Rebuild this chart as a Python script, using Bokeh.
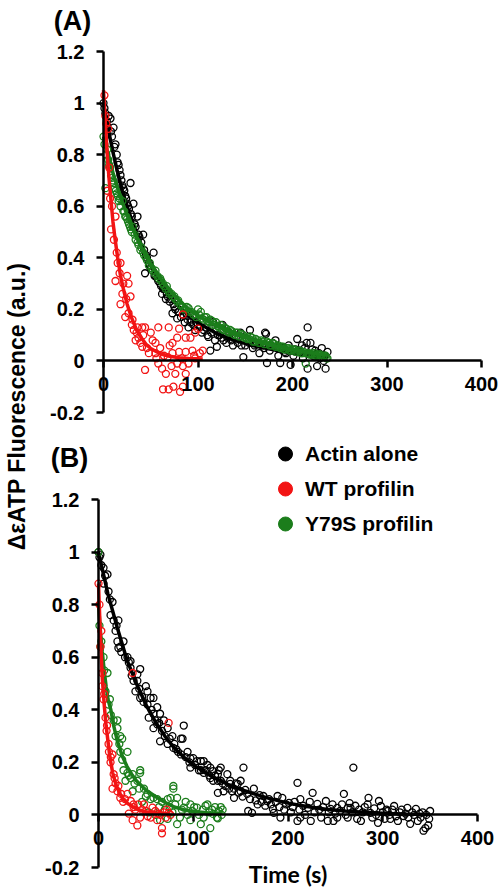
import math
from bokeh.plotting import figure
from bokeh.layouts import row, column
from bokeh.models import (Range1d, FixedTicker, CustomJSTickFormatter, Label,
                          Legend, LegendItem)
from bokeh.embed import file_html
from bokeh.resources import INLINE

# ---------------- data ----------------
X_TICKS = [0, 100, 200, 300, 400]
Y_TICKS = [-0.2, 0, 0.2, 0.4, 0.6, 0.8, 1, 1.2]
SERIES_NAMES = ["Actin alone", "WT profilin", "Y79S profilin"]

# Panel A : (time s, fluorescence)
A_BLACK = [(0,1.00),(1,0.98),(2,0.96),(3.5,0.93),(4,0.91),(5.5,0.95),(7.4,0.94),(8,0.89),(9,0.87),(10.6,0.905),
           (11.5,0.83),(12.7,0.84),(14,0.80),(15,0.77),(16,0.76),(17,0.74),(18,0.72),(19,0.70),(20,0.68),(21,0.67),
           (22,0.66),(23,0.64),(24,0.63),(25,0.61),(26,0.60),(27,0.59),(28.6,0.69),(29,0.57),(30,0.56),(31.7,0.61),
           (33,0.53),(34,0.52),(36,0.56),(37,0.49),(38,0.48),(40,0.46),(42,0.49),(43,0.43),(44,0.34),(45,0.41),
           (46,0.40),(48,0.38),(49,0.37),(50,0.36),(52,0.35),(53,0.42),(54,0.33),(55,0.33),(57,0.32),(58,0.31),
           (60,0.30),(61,0.29),(62,0.26),(63,0.28),(64,0.28),(66,0.24),(67,0.26),(68,0.25),(70,0.23),(71,0.24),
           (73,0.185),(74,0.22),(75,0.21),(76,0.20),(78,0.165),(79,0.19),(80,0.19),(82,0.17),(84,0.18),(86,0.15),
           (88,0.18),(89,0.16),(90,0.13),(92,0.15),(93,0.16),(95,0.14),(97,0.12),(98,0.15),(100,0.14),(102,0.13),
           (104,0.11),(106,0.12),(108,0.13),(110,0.10),(111,0.093),(113,0.04),(114,0.11),(116,0.15),(118,0.08),
           (120,0.055),(121,0.10),(123,0.10),(125,0.09),(126,0.14),(127,0.08),(130,0.07),(131,0.09),(133,0.11),
           (135,0.08),(137,0.06),(140,0.09),(142,0.07),(145,0.11),(146,0.06),(148,0.015),(150,0.06),(152,0.085),
           (154,0.07),(155,0.12),(158,0.05),(160,0.06),(162,0.07),(165,0.03),(168,0.06),(170,0.05),(171,0.11),
           (172,0.105),(173,-0.008),(176,0.04),(179,0.07),(182,0.08),(184,0.05),(185,0.02),(187,-0.008),(190,0.05),
           (192,0.035),(193,0.03),(196,0.06),(198,-0.015),(201,0.02),(203,0.045),(205,0.085),(208,0.04),(210,0.06),
           (211,0.01),(213,0.05),(215,0.07),(216,0.13),(216,-0.03),(219,0.07),(221,0.045),(222,0.02),(224,0.04),
           (226,-0.02),(228,0.03),(229,0.01),(231,0.05),(233,0.0),(234,0.02),(235,-0.03),(237,0.035)]

A_RED = [(1,1.03),(2,0.95),(3,0.92),(4,0.66),(5,0.90),(6,0.75),(7,0.63),(8,0.51),(9,0.60),(11,0.47),
         (12.7,0.56),(12.7,0.31),(14,0.42),(15,0.38),(17,0.34),(18,0.38),(18,0.22),(20,0.26),(21,0.30),(23,0.17),
         (24,0.24),(25,0.33),(26.5,0.30),(26.5,0.185),(28.6,0.25),(30,0.14),(30.7,0.16),(32,0.12),(34,0.08),(35,0.11),
         (36,0.13),(37,0.09),(39,0.07),(41,0.13),(41,0.055),(42,0.10),(44,0.13),(44,-0.035),(46,0.05),(48,0.03),
         (50,0.11),(52,0.08),(55,0.07),(55,0.03),(56,0.01),(58,0.13),(58,-0.01),(60,0.05),(62,-0.03),(63,-0.11),
         (64,0.02),(66,-0.05),(68,0.015),(69,0.13),(69,-0.11),(70,0.06),(72,-0.02),(73,0.07),(73,0.03),(74,-0.10),
         (76,-0.05),(78,0.09),(78,-0.01),(80,0.125),(80,0.035),(81,-0.12),(83,0.01),(84,-0.10),(84,-0.02),(84,0.18),
         (87,0.09),(87,0.035),(87,-0.05),(90,-0.01),(92,0.09),(94,0.04),(96,0.02),(97,0.11),(97,0.01),(100,0.125),
         (102,0.03),(105,0.04)]

A_GREEN = [(0,0.87),(1,0.84),(2,0.67),(3,0.80),(4,0.82),(5,0.78),(6,0.76),(7,0.75),(8,0.72),(9,0.71),(10,0.70),
           (11,0.69),(12,0.67),(13,0.66),(14,0.65),(15,0.64),(16,0.62),(17,0.63),(18,0.60),(20,0.62),(21,0.58),
           (22,0.58),(23,0.56),(24,0.56),(25,0.55),(26,0.54),(27,0.53),(28,0.52),(29,0.51),(30,0.50),(31,0.52),
           (33,0.49),(34,0.47),(36,0.46),(37,0.45),(39,0.43),(40,0.44),(42,0.42),(43,0.41),(45,0.40),(46,0.39),
           (48,0.37),(49,0.38),(51,0.36),(52,0.35),(54,0.34),(55,0.35),(57,0.33),(58,0.32),(60,0.32),(61,0.31),
           (63,0.30),(64,0.29),(66,0.28),(67,0.29),(69,0.27),(70,0.26),(72,0.26),(73,0.25),(75,0.25),(76,0.24),
           (78,0.23),(79,0.235),(81,0.22),(82,0.215),(84,0.21),(85,0.20),(87,0.20),(88,0.21),(90,0.205),(91,0.19),
           (93,0.19),(95,0.18),(97,0.18),(98,0.17),(100,0.20),(101,0.18),(103,0.19),(104,0.165),(106,0.16),(107,0.17),
           (109,0.17),(110,0.155),(112,0.15),(113,0.16),(115,0.155),(116,0.14),(118,0.14),(119,0.15),(121,0.135),
           (122,0.13),(124,0.14),(125,0.125),(127,0.12),(128,0.13),(130,0.125),(131,0.115),(133,0.11),(134,0.12),
           (136,0.115),(137,0.105),(139,0.10),(140,0.11),(142,0.11),(143,0.095),(145,0.095),(146,0.105),(148,0.10),
           (149,0.09),(151,0.09),(152,0.085),(154,0.085),(155,0.095),(157,0.09),(158,0.075),(160,0.075),(161,0.085),
           (163,0.08),(164,0.07),(166,0.07),(167,0.08),(169,0.075),(170,0.065),(172,0.065),(173,0.075),(175,0.07),
           (176,0.06),(178,0.06),(179,0.07),(181,0.065),(182,0.055),(184,0.055),(185,0.06),(187,0.05),(188,0.055),
           (190,0.055),(191,0.045),(193,0.045),(194,0.05),(196,0.05),(197,0.04),(199,0.04),(200,0.045),(202,0.045),
           (203,0.035),(205,0.035),(206,0.04),(208,0.04),(209,0.03),(211,0.03),(212,0.035),(214,-0.01),(215,0.03),
           (217,0.03),(218,0.025),(220,0.025),(221,0.03),(223,0.03),(224,0.02),(226,0.02),(227,0.025),(229,0.025),
           (230,0.015),(232,0.015),(233,0.02),(235,0.02),(236,0.01),(237,0.01)]

A_BLACK_FIT = [(0,1.00),(5,0.90),(10,0.81),(15,0.73),(20,0.66),(25,0.60),(30,0.545),(40,0.45),(50,0.37),(60,0.305),
               (70,0.25),(80,0.21),(90,0.175),(100,0.148),(120,0.105),(140,0.078),(160,0.058),(180,0.043),(200,0.030),
               (220,0.020),(237,0.013)]
A_RED_FIT = [(0,1.05),(2,0.92),(4,0.80),(6,0.70),(8,0.62),(10,0.54),(12,0.48),(15,0.40),(18,0.33),(21,0.28),(25,0.22),
             (30,0.165),(35,0.12),(40,0.09),(45,0.065),(50,0.048),(60,0.028),(70,0.018),(80,0.012),(90,0.009),(105,0.007)]
A_GREEN_FIT = [(0,0.87),(5,0.80),(10,0.73),(15,0.67),(20,0.615),(25,0.565),(30,0.52),(40,0.44),(50,0.375),(60,0.32),
               (70,0.275),(80,0.235),(90,0.20),(100,0.175),(120,0.135),(140,0.105),(160,0.08),(180,0.06),(200,0.045),
               (220,0.032),(237,0.022)]

# Panel B
B_BLACK = [(0,1.0),(1,0.98),(2,0.99),(3,0.95),(5.3,0.94),(5.3,0.88),(7,0.91),(9.5,0.915),(10.6,0.85),(12,0.82),
           (12.7,0.76),(14.8,0.81),(16,0.74),(18,0.70),(19,0.72),(20,0.66),(21,0.74),(21,0.635),(23,0.64),(24,0.62),
           (26.4,0.66),(28,0.60),(30.6,0.60),(32,0.58),(33.8,0.56),(33.8,0.585),(35,0.53),(37,0.51),(39,0.47),(41,0.535),
           (41,0.51),(43,0.48),(44,0.555),(44,0.445),(46,0.45),(47.5,0.43),(50,0.49),(51.7,0.42),(51.7,0.47),(53,0.37),
           (55,0.445),(56,0.40),(58,0.385),(58,0.33),(58,0.445),(60,0.36),(62,0.345),(62,0.41),(64,0.35),(65,0.385),
           (65,0.28),(67,0.32),(69,0.36),(70,0.30),(73,0.33),(73,0.27),(75,0.29),(78,0.30),(79,0.255),(80,0.27),
           (82,0.25),(84,0.24),(87,0.29),(87,0.23),(88.7,0.29),(90,0.34),(92,0.22),(94,0.24),(96,0.20),(97,0.215),
           (97,0.18),(100,0.216),(102,0.19),(104,0.205),(106,0.17),(108,0.205),(108,0.17),(111,0.205),(111,0.16),(113,0.17),
           (115,0.19),(117,0.15),(118,0.18),(118,0.14),(121,0.13),(121,0.167),(123,0.15),(126,0.155),(126,0.13),(126,0.084),
           (127,0.17),(129,0.13),(129,0.18),(131,0.12),(132,0.09),(134,0.11),(136,0.155),(138,0.10),(139,0.13),(139,0.118),
           (141,0.09),(143,0.10),(143,0.065),(145,0.12),(147,0.118),(148,0.085),(150,0.09),(150,0.13),(152,0.07),(153,0.18),
           (155,0.095),(157,0.08),(158,0.015),(160,0.06),(162,0.008),(164,0.10),(166,0.055),(168,0.04),(170,0.075),(172,0.05),
           (174,0.072),(176,0.035),(178,0.053),(180,0.06),(182,0.04),(184,0.023),(185,0.008),(187,0.05),(189,0.072),(191,0.03),
           (192,-0.01),(194,0.065),(196,0.02),(198,0.04),(201,0.046),(203,0.01),(205,0.03),(207,0.05),(210,0.122),(210,-0.023),
           (212,0.02),(213,0.06),(213,-0.01),(216,0.035),(218,0.0),(221,0.027),(223,0.05),(224,-0.023),(226,0.084),(228,0.01),
           (231,0.042),(233,0.02),(235,-0.01),(237,0.03),(240,0.053),(242,-0.023),(243,0.01),(245,0.023),(247,0.04),(248,-0.023),
           (250,0.005),(252,-0.01),(252,0.027),(255,0.015),(257,0.04),(259,0.08),(261,0.0),(263,0.027),(263,-0.01),(265,0.045),
           (266,0.027),(268,0.01),(269,0.18),(271,0.035),(273,-0.015),(275,0.02),(277,-0.023),(279,0.01),(281,0.03),(284,0.04),
           (285,0.065),(287,0.008),(289,-0.01),(291,0.025),(293,0.0),(295,-0.03),(296,0.053),(298,0.034),(300,0.01),(302,-0.015),
           (304,0.02),(305,0.015),(307,0.0),(308,-0.015),(310,0.02),(312,0.034),(314,-0.005),(316,-0.023),(318,0.01),(320,0.02),
           (322,-0.004),(324,0.005),(326,0.027),(327,-0.01),(329,-0.034),(331,0.01),(333,0.0),(335,0.023),(337,-0.023),(339,0.005),
           (340,-0.01),(342,0.01),(343,-0.06),(345,-0.05),(346,0.0),(348,-0.04),(349,-0.015),(350,0.015)]

B_RED = [(0,0.88),(1,0.80),(2,0.64),(3,0.70),(4,0.54),(4,0.49),(5.3,0.44),(6,0.46),(7.4,0.37),(8.5,0.32),(9,0.34),
         (10.6,0.27),(11,0.24),(12.7,0.20),(13,0.22),(14.8,0.23),(14.8,0.10),(16,0.155),(17,0.14),(18,0.12),(20,0.09),
         (21,0.11),(23,0.065),(24,0.08),(26,0.05),(28,0.06),(30.6,0.08),(32,0.005),(34,0.053),(36,-0.02),(36,0.54),
         (37,0.03),(37,0.04),(39,0.02),(41,-0.04),(42,0.04),(44,-0.01),(46,0.02),(48,0.04),(50,0.015),(52,-0.005),
         (55,-0.01),(57,0.028),(60,0.015),(62,-0.02),(63,0.005),(65,0.0),(67,-0.07),(67,-0.05),(69,0.01),(71,-0.01),
         (72,0.02),(74,0.008),(74,0.35),(76,0.0)]

B_GREEN = [(0,1.0),(1,0.72),(2,0.64),(3,0.66),(5.3,0.60),(6,0.55),(7.4,0.47),(9.5,0.54),(10.6,0.42),(12,0.44),(13,0.38),
           (16,0.36),(18,0.30),(20,0.33),(20,0.36),(22,0.27),(23,0.24),(23,0.30),(25,0.29),(25,0.21),(26.4,0.17),(28.5,0.13),
           (30.6,0.16),(30.6,0.24),(32,0.15),(34,0.14),(36,0.155),(36,0.09),(38,0.12),(41,0.13),(43,0.10),(44,0.17),(44,0.16),
           (46,0.05),(48,0.10),(50,0.07),(51.6,0.08),(53,0.01),(55,0.06),(58,0.065),(60,0.0),(62,0.06),(64,0.03),(65,-0.02),
           (67,0.05),(70,0.02),(73,0.06),(73,-0.015),(75,0.03),(76,0.065),(78,0.01),(79,0.10),(79,0.11),(81,0.04),(83,0.065),
           (83,-0.035),(86,-0.01),(88,0.02),(90,0.028),(92,0.05),(94,0.0),(97,0.04),(97,-0.02),(99,0.015),(101,0.03),
           (104,0.028),(106,0.0),(108,-0.035),(110,0.02),(111,-0.01),(113,0.035),(115,0.04),(117,0.01),(118,-0.05),(120,0.02),
           (121,0.004),(123,0.03),(125,-0.01),(126,-0.013),(127,0.015),(129,0.03),(130,0.0),(131,0.02)]

B_BLACK_FIT = [(0,1.0),(10,0.84),(20,0.71),(30,0.59),(40,0.50),(50,0.42),(60,0.355),(70,0.30),(80,0.255),(90,0.22),
               (100,0.19),(120,0.145),(140,0.11),(160,0.085),(180,0.063),(200,0.045),(220,0.032),(240,0.022),(260,0.015),
               (280,0.01),(300,0.006),(320,0.004),(350,0.002)]
B_RED_FIT = [(0,0.88),(2,0.68),(4,0.52),(6,0.42),(8,0.34),(10,0.28),(12,0.22),(15,0.16),(18,0.12),(22,0.085),(26,0.06),
             (30,0.045),(40,0.022),(50,0.012),(60,0.007),(76,0.004)]
B_GREEN_FIT = [(0,0.80),(2,0.70),(4,0.62),(6,0.55),(8,0.49),(10,0.44),(13,0.40),(16,0.34),(20,0.28),(25,0.225),(30,0.185),
               (35,0.155),(40,0.13),(50,0.095),(60,0.07),(70,0.048),(80,0.03),(90,0.02),(100,0.013),(115,0.008),(130,0.006)]

# ---------------- styling ----------------
FONT = "Liberation Sans"
BLACK = "#000000"
RED = "#f21414"
GREEN = "#1b7d1b"
COLORS = [BLACK, RED, GREEN]


def split(pairs):
    return [p[0] for p in pairs], [p[1] for p in pairs]


def make_ranges(cw, ch, x0_px, x1_px, ytop_px, ybot_px):
    """Ranges so that the axis ends land on the given canvas pixels."""
    xs = (X_TICKS[-1] - X_TICKS[0]) / (x1_px - x0_px)
    ys = (Y_TICKS[-1] - Y_TICKS[0]) / (ybot_px - ytop_px)
    xr = Range1d(X_TICKS[0] - x0_px * xs, X_TICKS[-1] + (cw - x1_px) * xs)
    yr = Range1d(Y_TICKS[0] - (ch - ybot_px) * ys, Y_TICKS[-1] + ytop_px * ys)
    return xr, yr


def style_axes(p, xlabel):
    xa = p.xaxis[0]
    xa.fixed_location = 0
    xa.ticker = FixedTicker(ticks=X_TICKS)
    xa.bounds = (X_TICKS[0], X_TICKS[-1])
    ya = p.yaxis[0]
    ya.fixed_location = 0
    ya.ticker = FixedTicker(ticks=Y_TICKS)
    ya.bounds = (Y_TICKS[0], Y_TICKS[-1])
    ya.formatter = CustomJSTickFormatter(code="return tick.toFixed(1).replace(/\\.0$/, '');")
    for ax in (xa, ya):
        ax.axis_line_width = 2.5
        ax.axis_line_color = BLACK
        ax.major_tick_line_width = 2.5
        ax.major_tick_line_color = BLACK
        ax.major_tick_in = 0
        ax.major_tick_out = 7
        ax.minor_tick_line_color = None
        ax.major_label_text_font = FONT
        ax.major_label_text_font_size = "20px"
        ax.major_label_text_font_style = "bold"
        ax.major_label_text_color = BLACK
    xa.major_label_standoff = 9
    ya.major_label_standoff = 12
    xa.axis_label = xlabel
    xa.axis_label_text_font = "Lato"
    xa.axis_label_text_font_size = "23px"
    xa.axis_label_text_font_style = "bold"
    xa.axis_label_text_color = BLACK
    xa.axis_label_standoff = 12
    p.xgrid.visible = False
    p.ygrid.visible = False
    p.outline_line_color = None


def make_panel(cw, ch, px, pts, fits, order, xlabel):
    xr, yr = make_ranges(cw, ch, *px)
    p = figure(width=cw, height=ch, x_range=xr, y_range=yr, min_border=0,
               output_backend="svg", toolbar_location=None, title=None)
    style_axes(p, xlabel)
    rs = {}
    for i in order:
        x, y = split(pts[i])
        p.scatter(x, y, marker="circle", size=7, fill_color=None, line_color=COLORS[i], line_width=1.3)
        fx, fy = split(fits[i])
        p.line(fx, fy, line_width=3.5, line_color=COLORS[i])
    return p


LW = 38            # width of the strip holding the shared y title
PW = 461           # width of each panel
HA, HB = 430, 458  # heights of the panels

pA = make_panel(PW, HA, (65, 443, 51, 412), [A_BLACK, A_RED, A_GREEN],
                [A_BLACK_FIT, A_RED_FIT, A_GREEN_FIT], [0, 2, 1], "")
pB = make_panel(PW, HB, (60, 439, 69, 437), [B_BLACK, B_RED, B_GREEN],
                [B_BLACK_FIT, B_RED_FIT, B_GREEN_FIT], [0, 2, 1], "Time (s)")

for p, txt, xy in ((pA, "(A)", (34, HA - 20)), (pB, "(B)", (31, HB - 27))):
    p.add_layout(Label(x=xy[0], y=xy[1], x_units="screen", y_units="screen", text=txt,
                       text_font=FONT, text_font_size="27px", text_font_style="bold",
                       text_color=BLACK, text_align="center", text_baseline="middle"))

# legend (panel B): filled circles; hidden renderers used only as legend swatches
items = []
for name, c, pts in zip(SERIES_NAMES, COLORS, [B_BLACK, B_RED, B_GREEN]):
    x, y = split(pts)
    r = pB.scatter(x, y, marker="circle", size=14, fill_color=c, line_color=c, visible=False)
    items.append(LegendItem(label=name, renderers=[r]))
legend = Legend(items=items, location=(229, HB - 541 + 430), orientation="vertical", glyph_width=36,
                glyph_height=35, label_standoff=2, spacing=0, padding=0, margin=0,
                border_line_color=None, background_fill_alpha=0, inactive_fill_alpha=0,
                label_text_font=FONT, label_text_font_style="bold", label_text_font_size="21px",
                label_text_color=BLACK, label_height=35, click_policy="none")
pB.add_layout(legend)

H = HA + HB
lab = figure(width=LW, height=H, x_range=Range1d(0, 1), y_range=Range1d(0, 1), x_axis_type=None,
             y_axis_type=None, min_border=0, outline_line_color=None, output_backend="svg",
             toolbar_location=None, title=None)
lab.grid.visible = False
lab.add_layout(Label(x=16, y=H - 406, x_units="screen", y_units="screen", text="ΔεATP Fluorescence (a.u.)",
                     angle=math.pi / 2, text_font=FONT, text_font_size="23px", text_font_style="bold",
                     text_color=BLACK, text_align="center", text_baseline="middle"))

layout = row(lab, column(pA, pB))
open("out.html", "w").write(file_html(layout, INLINE))
